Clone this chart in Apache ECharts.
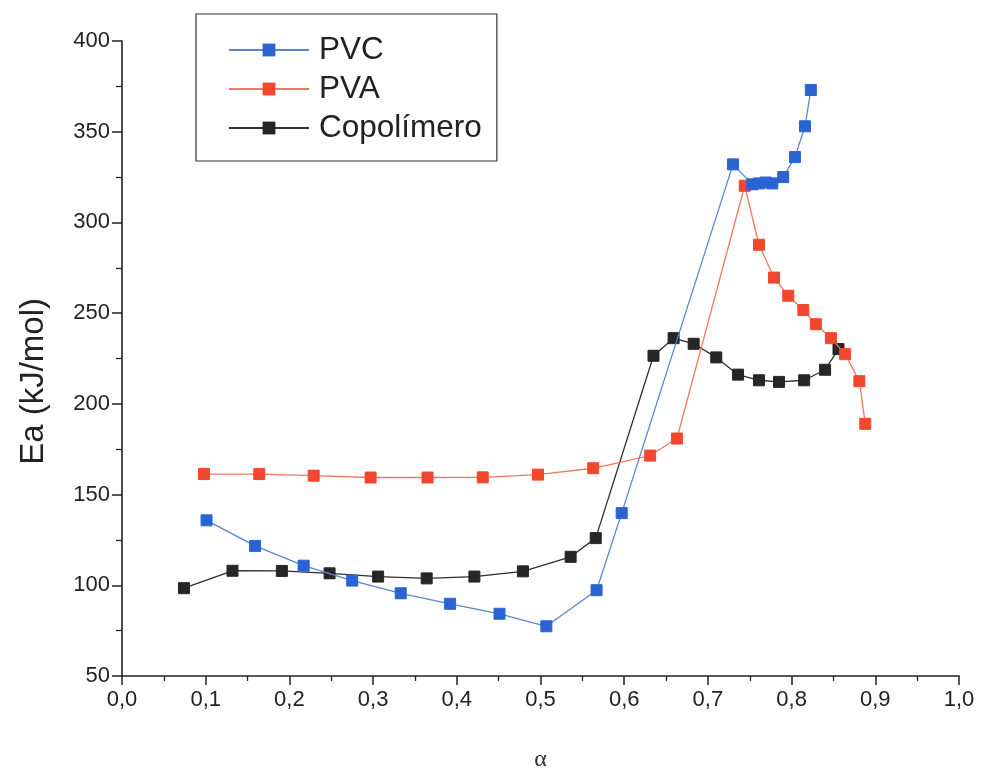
<!DOCTYPE html>
<html>
<head>
<meta charset="utf-8">
<script src="https://cdn.jsdelivr.net/npm/echarts@6/dist/echarts.min.js"></script>
<style>
  html, body { margin: 0; padding: 0; background: #fff; }
  #chart { width: 981px; height: 777px; }
</style>
</head>
<body>
<div id="chart"></div>
<script>
// Activation energy vs. conversion degree (alpha)
const seriesNames = ['PVC', 'PVA', 'Copolímero'];

const pvcAlpha = [0.101, 0.159, 0.217, 0.275, 0.333, 0.392, 0.451, 0.507, 0.567, 0.597,
                  0.730, 0.753, 0.761, 0.769, 0.777, 0.790, 0.804, 0.816, 0.823];
const pvcEa    = [135.8, 121.7, 110.8, 102.6, 95.6, 89.8, 84.3, 77.4, 97.3, 139.8,
                  332.0, 321.0, 321.5, 322.0, 321.5, 325.0, 336.0, 353.0, 373.0];

const pvaAlpha = [0.098, 0.164, 0.229, 0.297, 0.365, 0.431, 0.497, 0.563, 0.631, 0.663,
                  0.744, 0.761, 0.779, 0.796, 0.814, 0.829, 0.847, 0.864, 0.881, 0.888];
const pvaEa    = [161.3, 161.3, 160.4, 159.4, 159.4, 159.5, 161.0, 164.5, 171.5, 180.9,
                  320.2, 287.7, 269.6, 259.6, 251.7, 243.9, 236.2, 227.4, 212.5, 189.0];

const copAlpha = [0.074, 0.132, 0.191, 0.248, 0.306, 0.364, 0.421, 0.479, 0.536, 0.566,
                  0.635, 0.659, 0.683, 0.710, 0.736, 0.761, 0.785, 0.815, 0.840, 0.856];
const copEa    = [98.4, 108.0, 107.9, 106.6, 104.8, 103.8, 104.8, 107.7, 115.7, 126.0,
                  226.5, 236.2, 233.1, 225.6, 216.1, 213.0, 212.1, 213.0, 218.8, 230.2];

const xTickMin = 0, xTickMax = 1, xTickStep = 0.1;
const yTickMin = 50, yTickMax = 400, yTickStep = 50;

const pair = (xs, ys) => xs.map((x, i) => [x, ys[i]]);

const markerColors = ['#2a64d2', '#f2472f', '#262626'];
const lineColors   = ['#5a86cc', '#ee7a5e', '#2e2e2e'];
const font = '"Liberation Sans", Arial, sans-serif';
const axisColor = '#222';

function lineSeries(name, data, idx) {
  return {
    name: name,
    type: 'line',
    data: data,
    symbol: 'rect',
    symbolSize: 11,
    showSymbol: true,
    z: 3 - idx,
    itemStyle: { color: markerColors[idx], borderColor: markerColors[idx], opacity: 1 },
    lineStyle: { color: lineColors[idx], width: 1.3 },
    emphasis: { disabled: true }
  };
}

const chart = echarts.init(document.getElementById('chart'), null, { renderer: 'canvas' });
chart.setOption({
  animation: false,
  backgroundColor: '#ffffff',
  grid: { left: 122, top: 41, right: 22, bottom: 97, containLabel: false },
  legend: {
    orient: 'vertical',
    left: 196,
    top: 14,
    padding: [20, 15, 17, 32],
    itemGap: 7,
    itemWidth: 80,
    itemHeight: 16,
    borderColor: '#333',
    borderWidth: 1.2,
    borderRadius: 0,
    data: seriesNames,
    textStyle: { fontFamily: font, fontSize: 31.5, color: '#222', lineHeight: 30, padding: [0, 0, 0, 5] }
  },
  xAxis: {
    type: 'value',
    min: xTickMin,
    max: xTickMax,
    interval: xTickStep,
    name: 'α',
    nameLocation: 'middle',
    nameGap: 72,
    nameTextStyle: { fontFamily: '"Liberation Serif", "DejaVu Serif", serif', fontSize: 24, color: '#333' },
    axisLine: { lineStyle: { color: axisColor, width: 1.6 } },
    axisTick: { inside: false, length: 9, lineStyle: { color: axisColor, width: 1.5 } },
    minorTick: { show: true, splitNumber: 2, length: 5, lineStyle: { color: axisColor, width: 1.3 } },
    splitLine: { show: false },
    axisLabel: {
      margin: 13,
      fontFamily: font,
      fontSize: 22,
      color: '#222',
      formatter: v => v.toFixed(1).replace('.', ',')
    }
  },
  yAxis: {
    type: 'value',
    min: yTickMin,
    max: yTickMax,
    interval: yTickStep,
    axisLine: { show: true, lineStyle: { color: axisColor, width: 1.6 } },
    axisTick: { show: true, inside: false, length: 10, lineStyle: { color: axisColor, width: 1.5 } },
    minorTick: { show: true, splitNumber: 2, length: 6, lineStyle: { color: axisColor, width: 1.3 } },
    splitLine: { show: false },
    axisLabel: { margin: 12, fontFamily: font, fontSize: 22, color: '#222' }
  },
  graphic: [{
    type: 'text',
    left: 17,
    top: 298,
    rotation: Math.PI / 2,
    style: { text: 'Ea (kJ/mol)', font: '33px "Liberation Sans", Arial, sans-serif', fill: '#222' }
  }],
  series: [
    lineSeries(seriesNames[0], pair(pvcAlpha, pvcEa), 0),
    lineSeries(seriesNames[1], pair(pvaAlpha, pvaEa), 1),
    lineSeries(seriesNames[2], pair(copAlpha, copEa), 2)
  ]
});
</script>
</body>
</html>
